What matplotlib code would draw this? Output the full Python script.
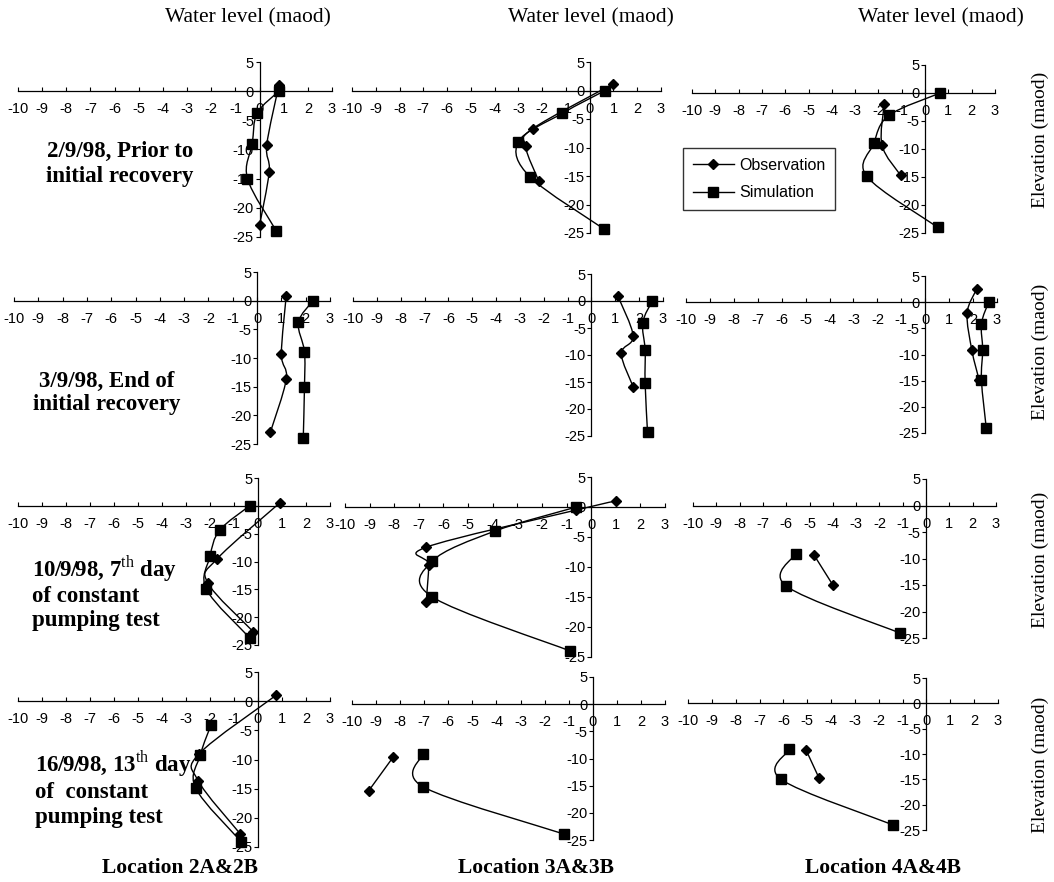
import numpy as np
import matplotlib
matplotlib.use("Agg")
import matplotlib.pyplot as plt
from matplotlib.path import Path
from matplotlib.patches import PathPatch
from matplotlib.lines import Line2D

plt.rcParams['axes.unicode_minus'] = False
plt.rcParams['font.family'] = 'Liberation Sans'
plt.rcParams['mathtext.fontset'] = 'custom'
plt.rcParams['mathtext.rm'] = 'Liberation Serif'
plt.rcParams['mathtext.bf'] = 'Liberation Serif:bold'

# row captions (dates) and column captions (locations)
dates = ["2/9/98, Prior to\ninitial recovery",
         "3/9/98, End of\ninitial recovery",
         "10/9/98, 7$^{\\mathrm{th}}$ day\nof constant\npumping test",
         "16/9/98, 13$^{\\mathrm{th}}$ day\nof  constant\npumping test"]
locations = ["Location 2A&2B", "Location 3A&3B", "Location 4A&4B"]

x_ticks = list(range(-10, 4))
y_ticks = [5, 0, -5, -10, -15, -20, -25]

# water level (maod) / elevation (maod), one list per date
obs_level_2 = [[0.8, 0.3, 0.4, 0.0],
               [1.2, 1.0, 1.2, 0.55],
               [0.9, -1.7, -2.1, -0.2],
               [0.75, -2.45, -2.5, -0.75]]
obs_elev_2 = [[1.0, -9.2, -13.8, -23.0],
              [0.9, -9.3, -13.7, -22.9],
              [0.5, -9.5, -13.8, -22.6],
              [1.0, -9.0, -13.6, -22.7]]
sim_level_2 = [[0.8, -0.1, -0.3, -0.5, 0.7],
               [2.3, 1.7, 1.95, 1.95, 1.9],
               [-0.35, -1.6, -2.0, -2.15, -0.35],
               [-1.95, -2.4, -2.6, -0.7]]
sim_elev_2 = [[0, -3.8, -9.0, -15.0, -24.0],
              [0, -3.8, -8.9, -15.0, -24.0],
              [0, -4.4, -9.1, -15.0, -23.7],
              [-4.0, -9.2, -14.9, -24.1]]

obs_level_3 = [[1.0, -2.4, -2.7, -2.15],
               [1.1, 1.75, 1.25, 1.75],
               [1.0, -0.6, -6.7, -6.6, -6.7],
               [-8.3, -9.3]]
obs_elev_3 = [[1.2, -6.7, -9.8, -15.8],
              [1.0, -6.5, -9.7, -15.9],
              [1.0, -0.5, -6.7, -9.6, -15.8],
              [-9.8, -15.9]]
sim_level_3 = [[0.65, -1.15, -3.0, -2.5, 0.6],
               [2.55, 2.15, 2.25, 2.25, 2.35],
               [-0.6, -3.9, -6.45, -6.45, -0.85],
               [-7.05, -7.05, -1.2]]
sim_elev_3 = [[0, -4.0, -9.0, -15.2, -24.3],
              [0, -4.0, -9.0, -15.2, -24.2],
              [0, -4.0, -9.0, -15.0, -24.0],
              [-9.1, -15.2, -23.9]]

obs_level_4 = [[-1.75, -1.85, -1.05],
               [2.15, 1.75, 1.95, 2.25],
               [-4.8, -4.0],
               [-5.05, -4.5]]
obs_elev_4 = [[-1.9, -9.3, -14.7],
              [2.5, -2.1, -9.2, -14.8],
              [-9.4, -15.0],
              [-9.2, -14.8]]
sim_level_4 = [[0.65, -1.55, -2.2, -2.5, 0.55],
               [2.65, 2.35, 2.4, 2.35, 2.55],
               [-5.6, -6.0, -1.1],
               [-5.75, -6.1, -1.4]]
sim_elev_4 = [[0, -4.0, -9.0, -14.9, -24.0],
              [0, -4.1, -9.1, -14.9, -24.0],
              [-9.1, -15.2, -24.1],
              [-9.1, -15.0, -24.0]]

obs_level = [obs_level_2, obs_level_3, obs_level_4]
obs_elev = [obs_elev_2, obs_elev_3, obs_elev_4]
sim_level = [sim_level_2, sim_level_3, sim_level_4]
sim_elev = [sim_elev_2, sim_elev_3, sim_elev_4]

W, H = 1054, 882
# pixel boxes of each small chart (left, right, top, bottom) - scanned panels differ a bit
boxes = [[(18, 332, 62, 237), (352, 661, 62, 233), (692, 995, 65, 233)],
         [(14, 330, 272, 444), (353, 663, 274, 436), (686, 997, 276, 433)],
         [(18, 330, 478, 645), (345, 665, 477, 657), (693, 996, 479, 638)],
         [(18, 330, 672, 847), (352, 665, 677, 840), (688, 998, 678, 830)]]


def smooth_path(xs, ys):
    # excel style smoothed line through the points (catmull-rom bezier)
    pts = np.column_stack([xs, ys]).astype(float)
    n = len(pts)
    verts = [pts[0]]
    codes = [Path.MOVETO]
    for i in range(n - 1):
        p0 = pts[i - 1] if i > 0 else pts[i]
        p1 = pts[i]
        p2 = pts[i + 1]
        p3 = pts[i + 2] if i + 2 < n else pts[i + 1]
        verts += [p1 + (p2 - p0) / 6.0, p2 - (p3 - p1) / 6.0, p2]
        codes += [Path.CURVE4] * 3
    return Path(verts, codes)


fig = plt.figure(figsize=(W / 100, H / 100), dpi=100)

for r in range(4):
    for c in range(3):
        L, R, T, B = boxes[r][c]
        ax = fig.add_axes([L / W, 1 - B / H, (R - L) / W, (B - T) / H])
        ax.set_xlim(-10, 3)
        ax.set_ylim(-25, 5)
        ax.patch.set_alpha(0)
        for s in ['top', 'right']:
            ax.spines[s].set_visible(False)
        ax.spines['left'].set_position(('data', 0))
        ax.spines['bottom'].set_position(('data', 0))
        ax.spines['left'].set_linewidth(0.9)
        ax.spines['bottom'].set_linewidth(0.9)
        ax.set_xticks(x_ticks)
        ax.set_yticks(y_ticks)
        ax.tick_params(axis='x', direction='in', length=3, width=0.8, pad=8, labelsize=10.5)
        ax.tick_params(axis='y', direction='out', length=3, width=0.8, pad=1, labelsize=10.5)

        ox, oy = obs_level[c][r], obs_elev[c][r]
        sx, sy = sim_level[c][r], sim_elev[c][r]
        ax.add_patch(PathPatch(smooth_path(ox, oy), fill=False, lw=1.0, ec='black', clip_on=False))
        ax.add_patch(PathPatch(smooth_path(sx, sy), fill=False, lw=1.0, ec='black', clip_on=False))
        ax.plot(ox, oy, ls='none', marker='D', ms=5, color='black', clip_on=False)
        ax.plot(sx, sy, ls='none', marker='s', ms=6.5, color='black', clip_on=False)

# top and side captions
for cx in [248, 591, 941]:
    fig.text(cx / W, 1 - 18 / H, "Water level (maod)", family='Liberation Serif',
             fontsize=15.5, ha='center', va='center')
for cy in [140, 352, 560, 765]:
    fig.text(1040 / W, 1 - cy / H, "Elevation (maod)", family='Liberation Serif',
             fontsize=14, ha='center', va='center', rotation=90)

# date captions
fig.text(120 / W, 1 - 164 / H, dates[0], family='Liberation Serif', weight='bold',
         fontsize=16.5, ha='center', va='center', linespacing=1.2)
fig.text(107 / W, 1 - 393 / H, dates[1], family='Liberation Serif', weight='bold',
         fontsize=16.5, ha='center', va='center', linespacing=1.15)
fig.text(32 / W, 1 - 592 / H, dates[2], family='Liberation Serif', weight='bold',
         fontsize=16.5, ha='left', va='center', linespacing=1.15)
fig.text(35 / W, 1 - 788 / H, dates[3], family='Liberation Serif', weight='bold',
         fontsize=16.5, ha='left', va='center', linespacing=1.2)

for cx, name in zip([180, 536, 883], locations):
    fig.text(cx / W, 1 - 868 / H, name, family='Liberation Serif', weight='bold',
             fontsize=15.5, ha='center', va='center')

handles = [Line2D([], [], color='black', lw=1, marker='D', ms=5),
           Line2D([], [], color='black', lw=1, marker='s', ms=6.5)]
fig.legend(handles, ['Observation', 'Simulation'], loc='upper left',
           bbox_to_anchor=(683 / W, 1 - 148 / H), borderaxespad=0, fontsize=11.5,
           frameon=True, fancybox=False, edgecolor='black', handlelength=2.6,
           borderpad=0.6, labelspacing=0.8, handletextpad=0.3)

fig.savefig("out.png", dpi=100)
